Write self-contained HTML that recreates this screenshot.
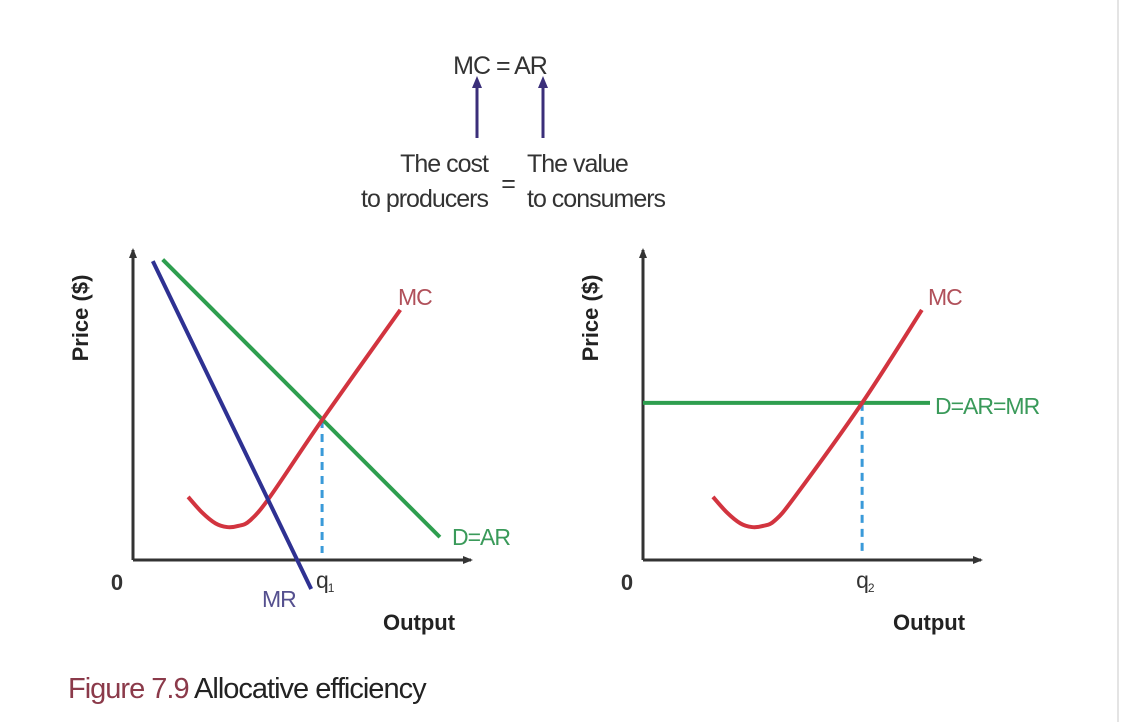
<!DOCTYPE html>
<html><head><meta charset="utf-8"><style>
body{margin:0;background:#fff;}
svg{display:block;font-family:"Liberation Sans",sans-serif;}
</style></head><body>
<svg width="1126" height="722" viewBox="0 0 1126 722" xmlns="http://www.w3.org/2000/svg">
<defs>
<marker id="ah" markerWidth="10" markerHeight="10" refX="8" refY="5" orient="auto" markerUnits="userSpaceOnUse"><path d="M0,1 L10,5 L0,9 z" fill="#333"/></marker>
<marker id="ap" markerWidth="12" markerHeight="12" refX="6" refY="10" orient="0" markerUnits="userSpaceOnUse"><path d="M1,12 L6,0 L11,12 z" fill="#3b2f7a"/></marker>
</defs>
<line x1="1118" y1="0" x2="1118" y2="722" stroke="#e4e4e4" stroke-width="2"/>
<g font-size="25" fill="#333" letter-spacing="-1">
<text x="500" y="74" text-anchor="middle">MC = AR</text>
<line x1="477" y1="138" x2="477" y2="86" stroke="#3b2f7a" stroke-width="3" marker-end="url(#ap)"/>
<line x1="543" y1="138" x2="543" y2="86" stroke="#3b2f7a" stroke-width="3" marker-end="url(#ap)"/>
<text x="488" y="172" text-anchor="end"><tspan x="488">The cost</tspan><tspan x="488" dy="35">to producers</tspan></text>
<text x="508" y="192" text-anchor="middle">=</text>
<text x="527" y="172"><tspan x="527">The value</tspan><tspan x="527" dy="35">to consumers</tspan></text>
</g>
<g id="left"></g>
<g id="right"></g>
<text x="68" y="698" font-size="29" letter-spacing="-1"><tspan fill="#8b3a4a">Figure 7.9</tspan><tspan fill="#222"> Allocative efficiency</tspan></text>
</svg>
<script>
const mrX=[6,54]; const mrY=[98,-9.5];
const dX=[9,93]; const dY=[98.5,7.5];
const mcX=[16.7,21,25,28.5,32,35.5,41.5,57.3,81]; const mcY=[20.7,15.5,12,10.8,11.2,13,20.7,45.9,82];
const q1=57.3; const q1Y=45.9;
const flatP=51.5;
const mc2X=[21.2,25.5,29.5,33,36.5,40,46,66.4,84.5]; const mc2Y=[20.7,15.5,12,10.8,11.2,13,20.7,51.5,82];
const q2=66.4;
const NS="http://www.w3.org/2000/svg";
function mk(p,t,a){const e=document.createElementNS(NS,t);for(const k in a)e.setAttribute(k,a[k]);p.appendChild(e);return e;}
function chart(g,x0){
 const sx=v=>x0+v*3.3, sy=v=>560-v*3.05;
 return {sx,sy};
}
function smooth(xs,ys,sx,sy){
 const P=xs.map((x,i)=>[sx(x),sy(ys[i])]);let d="M"+P[0];
 for(let i=0;i<P.length-1;i++){const p0=P[i-1]||P[i],p1=P[i],p2=P[i+1],p3=P[i+2]||p2;
 d+=` C${p1[0]+(p2[0]-p0[0])/6},${p1[1]+(p2[1]-p0[1])/6} ${p2[0]-(p3[0]-p1[0])/6},${p2[1]-(p3[1]-p1[1])/6} ${p2[0]},${p2[1]}`;}
 return d;}
function axes(g,x0){
 let e=mk(g,'line',{x1:x0,y1:560,x2:x0,y2:250,stroke:'#333','stroke-width':3,'marker-end':'url(#ah)'});
 
 e=mk(g,'line',{x1:x0,y1:560,x2:x0+338,y2:560,stroke:'#333','stroke-width':3,'marker-end':'url(#ah)'});
 
 e=mk(g,'text',{x:x0-53,y:310,'font-size':22,'font-weight':'bold',fill:'#222','text-anchor':'middle',transform:`rotate(-90 ${x0-45} 310)`});e.textContent='Price ($)';
 
 e=mk(g,'text',{x:x0+286,y:630,'font-size':22,'font-weight':'bold',fill:'#222','text-anchor':'middle'});e.textContent='Output';
 
 e=mk(g,'text',{x:x0-16,y:590,'font-size':22,'font-weight':'bold',fill:'#333','text-anchor':'middle'});e.textContent='0';
 
}
function lbl(g,x,y,t,c,name){const e=mk(g,'text',{x,y,'font-size':23,fill:c,'letter-spacing':-1});e.textContent=t;
 return e;}
{const g=document.getElementById('left');const {sx,sy}=chart(g,133);axes(g,133);
 let e=mk(g,'line',{x1:sx(q1),y1:sy(q1Y),x2:sx(q1),y2:553,stroke:'#3a9ad9','stroke-width':3,'stroke-dasharray':'8,6'});
 
 e=mk(g,'line',{x1:sx(dX[0]),y1:sy(dY[0]),x2:sx(dX[1]),y2:sy(dY[1]),stroke:'#2e9e4f','stroke-width':4});
 
 e=mk(g,'path',{d:smooth(mcX,mcY,sx,sy),fill:'none',stroke:'#d2343f','stroke-width':4});
 
 e=mk(g,'line',{x1:sx(mrX[0]),y1:sy(mrY[0]),x2:sx(mrX[1]),y2:sy(mrY[1]),stroke:'#2e3192','stroke-width':4});
 
 lbl(g,398,305,'MC','#b0505a','mc-label');lbl(g,452,545,'D=AR','#3a9a5a','d-ar-label');
 lbl(g,262,607,'MR','#55508f','mr-label');
 e=lbl(g,316,588,'q','#333','q1-label');const ts=mk(e,'tspan',{'font-size':12,dy:4});ts.textContent='1';}
{const g=document.getElementById('right');const {sx,sy}=chart(g,643);axes(g,643);
 let e=mk(g,'line',{x1:sx(q2),y1:sy(flatP),x2:sx(q2),y2:553,stroke:'#3a9ad9','stroke-width':3,'stroke-dasharray':'8,6'});
 
 e=mk(g,'line',{x1:643,y1:sy(flatP),x2:930,y2:sy(flatP),stroke:'#2e9e4f','stroke-width':4});
 
 e=mk(g,'path',{d:smooth(mc2X,mc2Y,sx,sy),fill:'none',stroke:'#d2343f','stroke-width':4});
 
 lbl(g,928,305,'MC','#b0505a','mc-label');lbl(g,935,414,'D=AR=MR','#3a9a5a','d-ar-mr-label');
 e=lbl(g,sx(q2)-6,588,'q','#333','q2-label');const ts=mk(e,'tspan',{'font-size':12,dy:4});ts.textContent='2';}
</script>
</body></html>
